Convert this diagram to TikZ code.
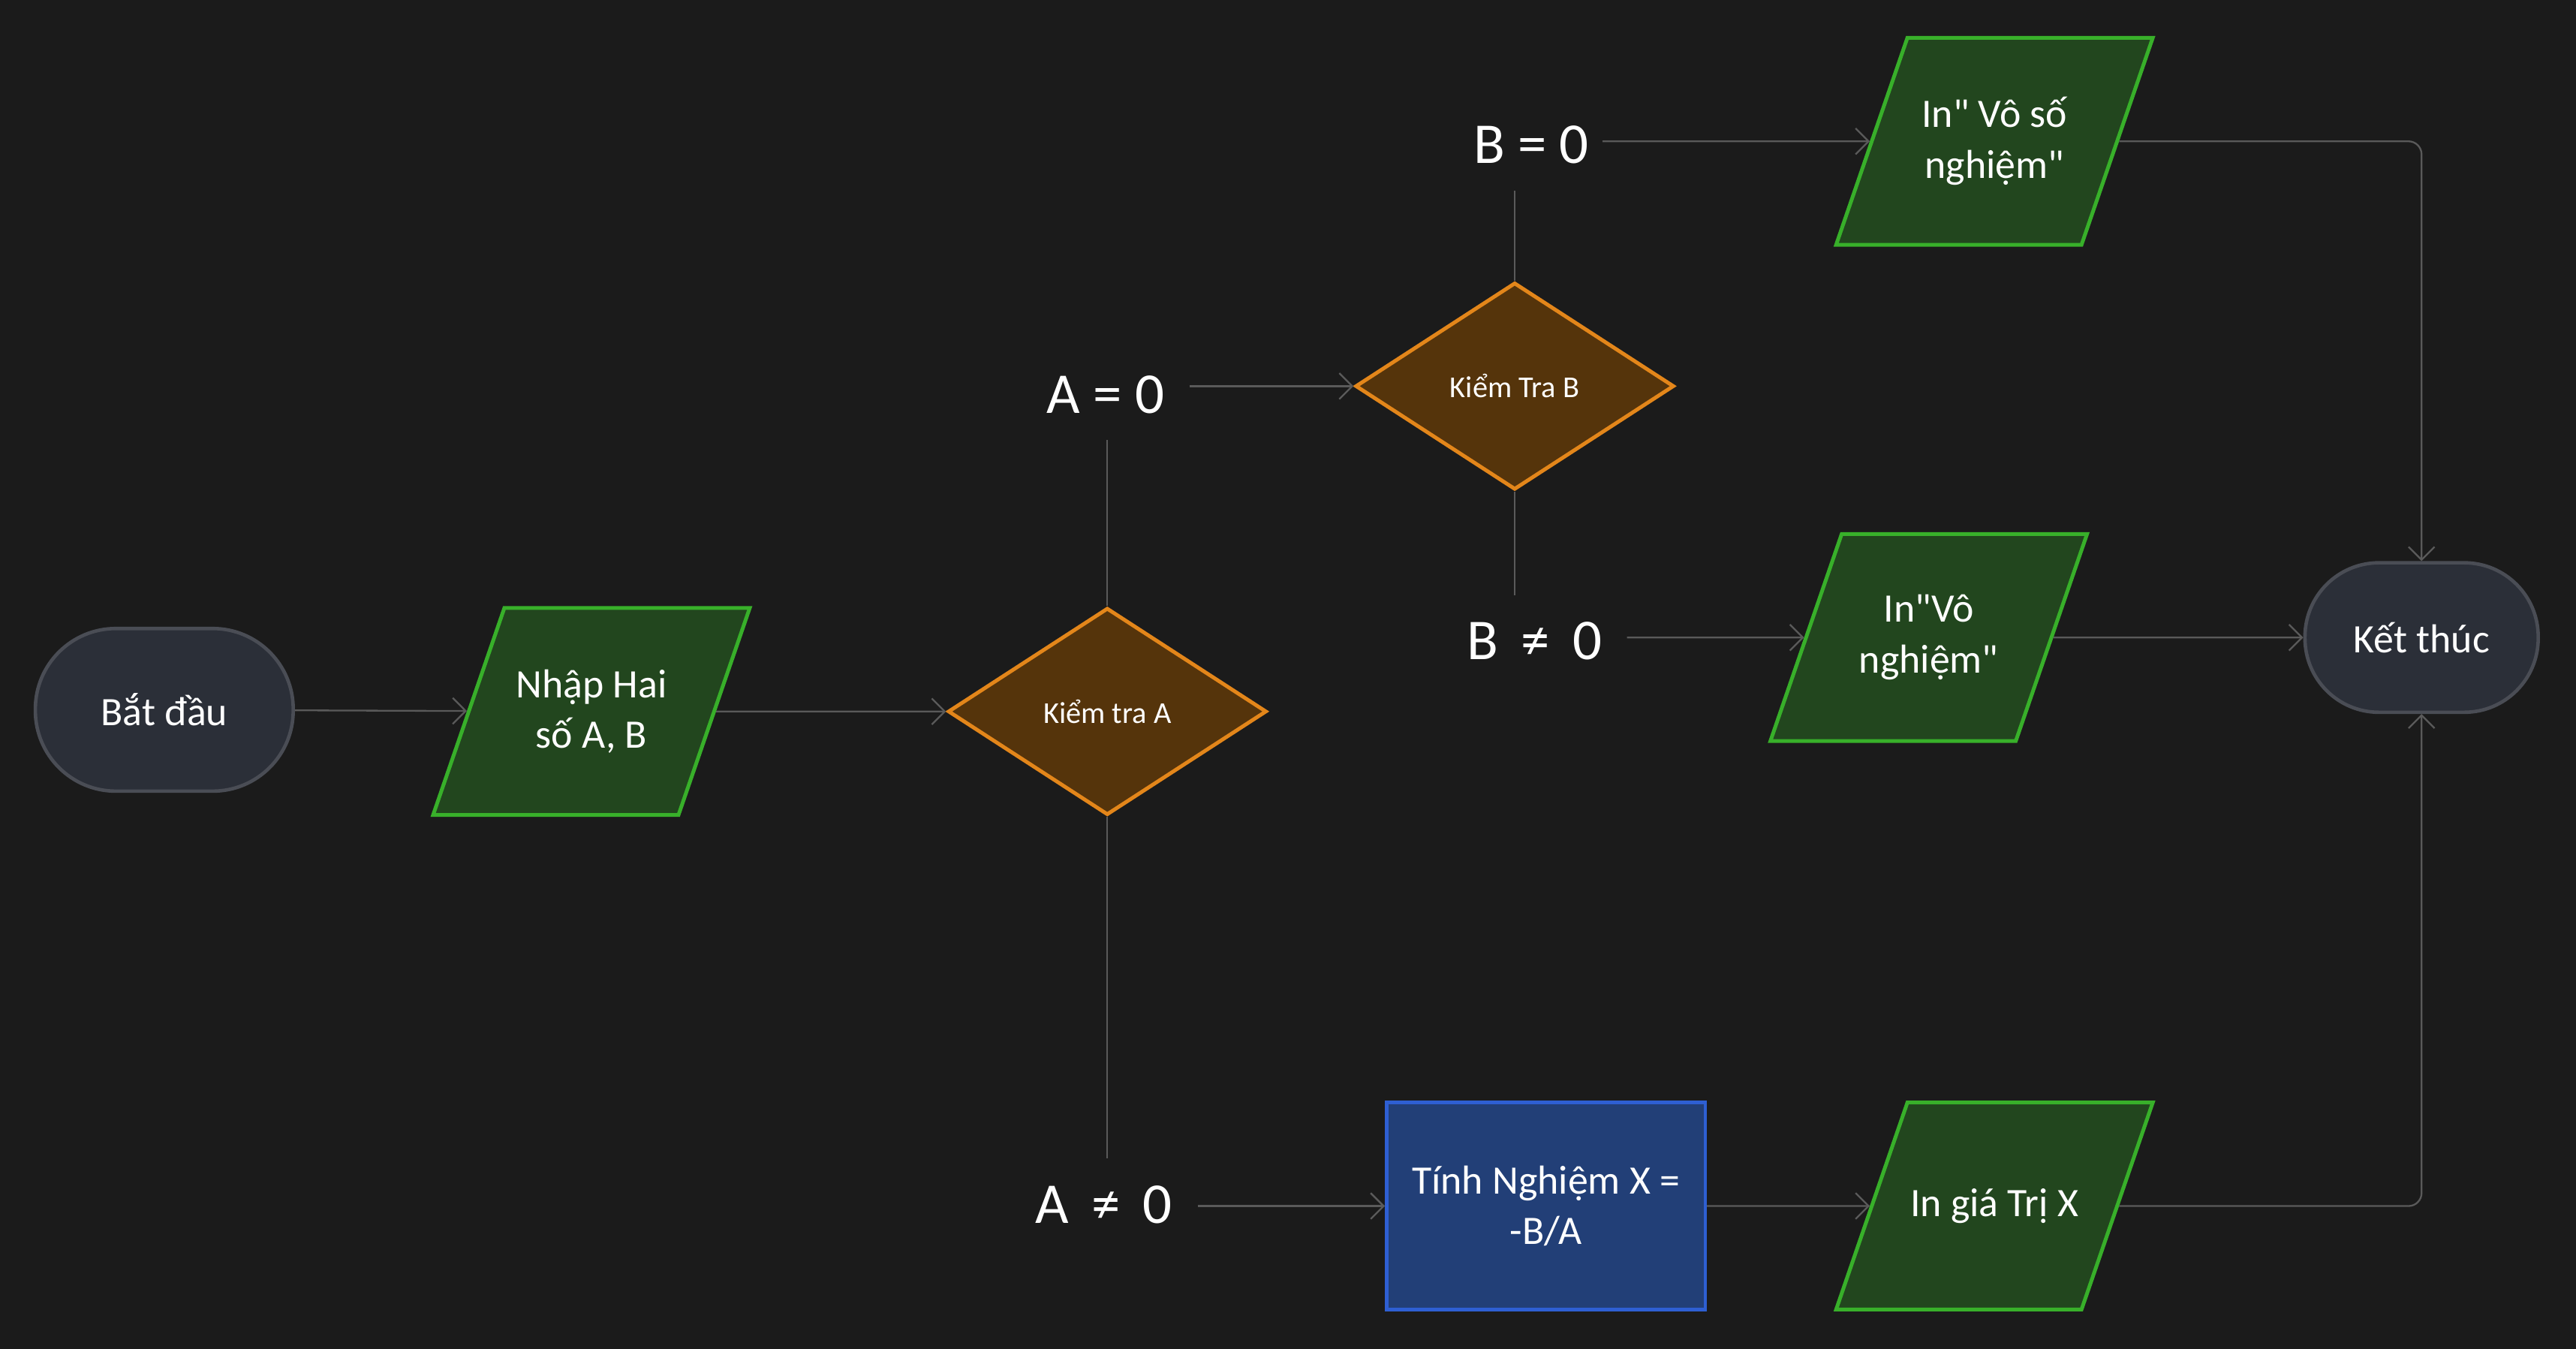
\documentclass[tikz,border=0pt]{standalone}
\usepackage{fontspec}
\setmainfont{Carlito}[Ligatures=TeXOff]
\usetikzlibrary{
  shapes.geometric,
  arrows.meta
}
\definecolor{bgcol}{HTML}{1B1B1B}
\definecolor{termfill}{HTML}{2B2F38}
\definecolor{termline}{HTML}{4A4D55}
\definecolor{iofill}{HTML}{22461E}
\definecolor{ioline}{HTML}{38B02A}
\definecolor{testfill}{HTML}{55340B}
\definecolor{testline}{HTML}{E3861A}
\definecolor{calcfill}{HTML}{223F77}
\definecolor{calcline}{HTML}{2E5FD3}
\definecolor{connline}{HTML}{5A5A5A}

\begin{document}
\begin{tikzpicture}[
  x=0.02cm, y=-0.02cm,
  >={Straight Barb[length=4.5pt,width=9pt]},
  every node/.style={text=white,align=center,font=\fontsize{14}{17.6}\selectfont},
  term/.style={draw=termline,fill=termfill,line width=1.2pt,rounded corners=0.98cm,
    minimum width=3.14cm,minimum height=1.98cm},
  io/.style={trapezium,trapezium left angle=71,trapezium right angle=109,
    draw=ioline,fill=iofill,line width=1.3pt,inner sep=0pt,align=none,
    execute at begin node=\begin{minipage}[c][2.52cm][c]{2.12cm}\centering,
    execute at end node=\end{minipage}},
  test/.style={diamond,draw=testline,fill=testfill,line width=1.3pt,inner sep=0pt,
    minimum width=3.88cm,minimum height=2.52cm,font=\fontsize{10.5}{12}\selectfont},
  calc/.style={draw=calcline,fill=calcfill,line width=1.2pt,
    minimum width=3.88cm,minimum height=2.52cm},
  cond/.style={inner xsep=0.3cm,inner ysep=0.32cm,font=\fontsize{20}{24}\selectfont},
  conn/.style={draw=connline,line width=0.6pt},
]
\fill[bgcol] (0,0) rectangle (1568,821);
\node[term] (start) at (100,432) {Bắt đầu};
\node[io] (input) at (360,433) {Nhập Hai\\số A, B};
\node[test] (testA) at (674,433) {Kiểm tra A};
\node[cond] (aZero) at (673,240) {A = 0};
\node[cond] (aNot) at (672,733) {A \,≠\, 0};
\node[test] (testB) at (922,235) {Kiểm Tra B};
\node[cond,inner xsep=0.16cm] (bZero) at (932,88) {B = 0};
\node[cond] (bNot) at (934,390) {B \,≠\, 0};
\node[io] (many) at (1214,86) {In" Vô số\\nghiệm"};
\node[io] (none) at (1174,388) {In"Vô\\nghiệm"};
\node[calc] (solve) at (941,734) {Tính Nghiệm X =\\-B/A};
\node[io] (printX) at (1214,734) {In giá Trị X};
\node[term,rounded corners=0.9cm,minimum width=2.84cm,minimum height=1.82cm] (finish) at (1474,388) {Kết thúc};

\draw[conn,->] (start) -- (input);
\draw[conn,->] (input) -- (testA);
\draw[conn] (testA) -- (testA |- aZero.south);
\draw[conn] (testA) -- (testA |- aNot.north);
\draw[conn,->] (aZero.east |- testB) -- (testB);
\draw[conn,->] (aNot.east |- solve) -- (solve);
\draw[conn] (testB) -- (testB |- bZero.south);
\draw[conn] (testB) -- (testB |- bNot.north);
\draw[conn,->] (bZero.east |- many) -- (many);
\draw[conn,->] (bNot.east |- none) -- (none);
\draw[conn,->] (solve) -- (printX);
\draw[conn,->] (none) -- (finish);
\draw[conn,->,rounded corners=0.16cm] (many) -| (finish);
\draw[conn,->,rounded corners=0.16cm] (printX) -| (finish);
\end{tikzpicture}
\end{document}
